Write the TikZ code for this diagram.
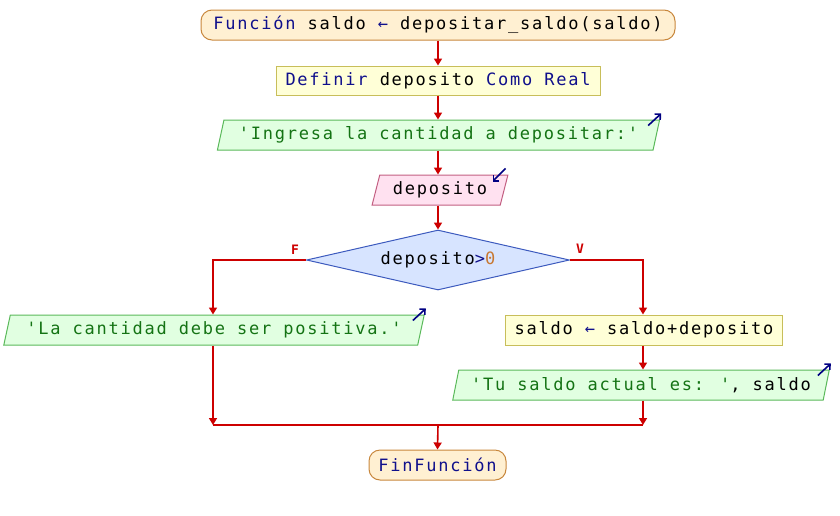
\documentclass[tikz,border=0pt]{standalone}
\usepackage{fontspec}
\newfontfamily\pmono[LetterSpace=10.4,Ligatures=TeXOff]{DejaVu Sans Mono}
\newfontfamily\pmonob[Ligatures=TeXOff]{DejaVu Sans Mono Bold}
\usetikzlibrary{shapes.geometric,arrows.meta,calc}
\definecolor{termf}{RGB}{255,240,210}
\definecolor{termd}{RGB}{200,135,60}
\definecolor{procf}{RGB}{255,255,215}
\definecolor{procd}{RGB}{200,190,90}
\definecolor{outf}{RGB}{225,255,225}
\definecolor{outd}{RGB}{90,185,90}
\definecolor{inf}{RGB}{255,225,240}
\definecolor{ind}{RGB}{195,95,130}
\definecolor{decf}{RGB}{215,228,255}
\definecolor{decd}{RGB}{60,90,190}
\definecolor{flowred}{RGB}{205,0,0}
\definecolor{kw}{RGB}{16,16,140}
\definecolor{str}{RGB}{20,115,20}
\definecolor{num}{RGB}{200,120,50}
\definecolor{icn}{RGB}{0,0,130}
\begin{document}
\begin{tikzpicture}[x=1pt,y=-1pt,
  base/.style={font=\pmono\fontsize{17}{20}\selectfont, inner sep=0pt, line width=1pt, text=black},
  term/.style={base, rectangle, rounded corners=11pt, draw=termd, fill=termf, minimum height=30pt},
  proc/.style={base, rectangle, draw=procd, fill=procf, minimum height=29pt},
  para/.style={base, trapezium, trapezium left angle=70, trapezium right angle=110, trapezium stretches=true, minimum height=30pt},
  outp/.style={para, draw=outd, fill=outf},
  inp/.style={para, draw=ind, fill=inf},
  dec/.style={base, diamond, shape aspect=4.4, draw=decd, fill=decf, minimum width=263pt, minimum height=60pt},
  flow/.style={draw=flowred, line width=1.6pt, -{Triangle[width=8pt,length=7pt]}},
  flowline/.style={draw=flowred, line width=1.6pt},
  icon/.style={draw=icn, line width=1.6pt, -{Straight Barb[length=4pt,width=8pt]}},
  lab/.style={font=\pmonob\fontsize{13}{15}\selectfont, text=flowred, inner sep=0pt}
]
\useasboundingbox (0,0) rectangle (840,515);

\node[term, minimum width=474pt] (start) at (438,25) {{\color{kw}Función} saldo {\color{kw}←} depositar\_saldo(saldo)};
\node[proc, minimum width=324pt] (def) at (438,80.5) {{\color{kw}Definir} deposito {\color{kw}Como Real}};
\node[outp, minimum width=443pt] (out1) at (438.5,135) {\color{str}'Ingresa la cantidad a depositar:'};
\node[inp, minimum width=136pt] (in1) at (440,190) {deposito};
\node[dec] (dec) at (438,260) {deposito{\color{kw}>}{\color{num}0}};
\node[outp, minimum width=421pt] (out2) at (214,330) {\color{str}'La cantidad debe ser positiva.'};
\node[proc, minimum width=277pt, minimum height=30pt] (asg) at (644,330) {saldo {\color{kw}←} saldo+deposito};
\node[outp, minimum width=378pt] (out3) at (641,385) {{\color{str}'Tu saldo actual es: '}, saldo};
\node[term, minimum width=137pt] (fin) at (437.5,465) {{\color{kw}FinFunción}};

\node[lab] (lf) at (295,250) {F};
\node[lab] (lv) at (580,249) {V};

% icons
\draw[icon] ($(out1.top right corner)+(-12,6)$) -- ($(out1.top right corner)+(1,-6)$);
\draw[icon] ($(out2.top right corner)+(-12,6)$) -- ($(out2.top right corner)+(1,-6)$);
\draw[icon] ($(out3.top right corner)+(-12,6)$) -- ($(out3.top right corner)+(1,-6)$);
\draw[icon] ($(in1.top right corner)+(-3,-6)$) -- ($(in1.top right corner)+(-16,7)$);

% flow
\coordinate (jl) at (213,425);
\coordinate (jr) at (643,425);
\coordinate (jm) at (438,425);
\draw[flow] (start.south -| jm) -- (jm |- def.north);
\draw[flow] (def.south -| jm) -- (jm |- out1.north);
\draw[flow] (out1.south -| jm) -- (jm |- in1.north);
\draw[flow] (in1.south -| jm) -- (dec.north);
\draw[flow] (dec.west) -- (dec.west -| jl) -- (jl |- out2.north);
\draw[flow] (dec.east) -- (dec.east -| jr) -- (jr |- asg.north);
\draw[flow] (asg.south -| jr) -- (jr |- out3.north);
\draw[flow] (jl |- out2.south) -- (jl);
\draw[flow] (jr |- out3.south) -- (jr);
\draw[flowline] (jl) -- (jr);
\draw[flow] (jm) -- (fin.north);
\end{tikzpicture}
\end{document}
